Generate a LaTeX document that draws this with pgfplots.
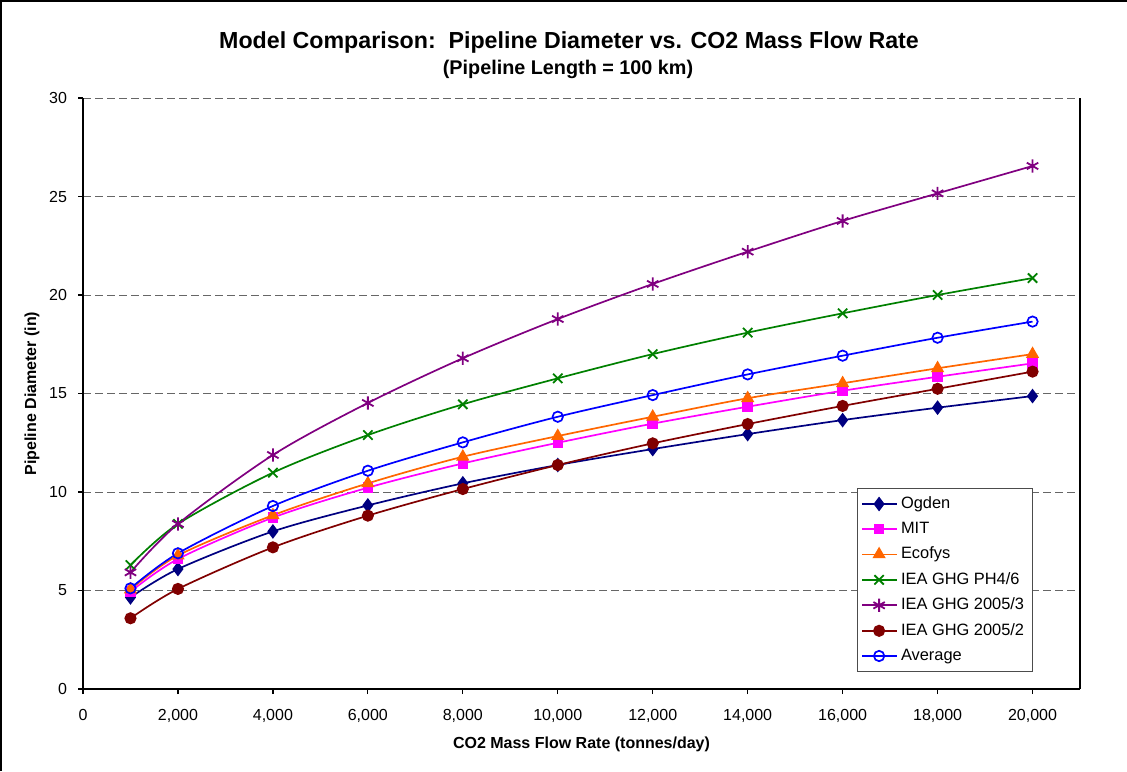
\documentclass[border=0pt]{standalone}
\usepackage{pgfplots}
\pgfplotsset{compat=1.18}
\usepackage{pgfplotstable}
\usepackage{fontspec}
\setmainfont{Liberation Sans}
\definecolor{cOgden}{RGB}{0,0,128}
\definecolor{cMIT}{RGB}{255,0,255}
\definecolor{cEco}{RGB}{255,102,0}
\definecolor{cPH}{RGB}{0,128,0}
\definecolor{cG3}{RGB}{128,0,128}
\definecolor{cG2}{RGB}{128,0,0}
\definecolor{cAvg}{RGB}{0,0,255}
\pgfplotstableread{
x ogden mit ecofys ph46 g3 g2 avg
1000 4.65 4.94 5.05 6.29 5.92 3.59 5.11
2000 6.09 6.60 6.78 8.38 8.38 5.08 6.89
4000 8.00 8.70 8.82 10.98 11.88 7.19 9.29
6000 9.32 10.22 10.44 12.89 14.52 8.80 11.08
8000 10.44 11.45 11.79 14.45 16.79 10.15 12.52
10000 11.37 12.50 12.84 15.77 18.78 11.37 13.82
12000 12.18 13.47 13.82 17.00 20.56 12.47 14.92
14000 12.94 14.33 14.76 18.09 22.20 13.45 15.97
16000 13.65 15.14 15.52 19.07 23.76 14.37 16.92
18000 14.28 15.85 16.28 20.00 25.16 15.24 17.83
20000 14.87 16.53 17.00 20.86 26.55 16.11 18.65
}\data
\begin{document}
\begin{tikzpicture}
\useasboundingbox (-41.5pt,-41pt) rectangle (522pt,344.5pt);
\draw[black,line width=0.75pt] (-40.9pt,-41pt) -- (-40.9pt,344.1pt) -- (522pt,344.1pt);
\begin{axis}[
  scale only axis, width=498.5pt, height=295.5pt,
  xmin=0, xmax=21000, ymin=0, ymax=30,
  xtick={0,2000,...,20000}, ytick={0,5,...,30},
  axis x line*=bottom, axis y line*=left,
  axis line style={black, line width=0.6pt, -},
  tick align=outside, major tick length=2.5pt,
  tick style={black, line width=0.6pt},
  ymajorgrids, grid style={dashed, dash pattern=on 4pt off 2pt, gray!80!black, line width=0.5pt},
  /pgf/number format/assume math mode=true,
  /pgf/number format/1000 sep={,},
  scaled x ticks=false,
  ticklabel style={font=\fontsize{8}{9.6}\selectfont},
  xticklabel style={yshift=-4pt},
  yticklabel style={xshift=-2pt},
  xlabel={\textbf{CO2 Mass Flow Rate (tonnes/day)}},
  ylabel={\textbf{Pipeline Diameter (in)}},
  label style={font=\fontsize{8}{9.6}\selectfont},
  xlabel style={at={(axis description cs:0.5,-0.0931)}, anchor=center},
  ylabel style={at={(axis description cs:-0.0512,0.5)}, anchor=center},
  legend style={at={(0.776,0.340)}, anchor=north west, draw=black!70, line width=0.5pt,
    font=\fontsize{8.2}{9.8}\selectfont, row sep=1.3pt, inner sep=2pt,
    /tikz/every even column/.append style={column sep=1pt}},
  legend cell align=left,
  every axis plot/.append style={line width=0.85pt, smooth},
  clip=false,
]
\addplot[color=cOgden, mark=diamond*, mark size=3pt, mark options={fill=cOgden}] table[x=x,y=ogden]{\data};
\addlegendentry{Ogden}
\addplot[color=cMIT, mark=square*, mark size=2.2pt, mark options={fill=cMIT}] table[x=x,y=mit]{\data};
\addlegendentry{MIT}
\addplot[color=cEco, mark=triangle*, mark size=3pt, mark options={fill=cEco}] table[x=x,y=ecofys]{\data};
\addlegendentry{Ecofys}
\addplot[color=cPH, mark=x, mark size=3.3pt, mark options={line width=0.9pt}] table[x=x,y=ph46]{\data};
\addlegendentry{IEA GHG PH4/6}
\addplot[color=cG3, mark=asterisk, mark size=3.3pt, mark options={line width=0.9pt}] table[x=x,y=g3]{\data};
\addlegendentry{IEA GHG 2005/3}
\addplot[color=cG2, mark=*, mark size=2.6pt, mark options={fill=cG2}] table[x=x,y=g2]{\data};
\addlegendentry{IEA GHG 2005/2}
\addplot[color=cAvg, mark=o, mark size=2.6pt, mark options={fill=none}] table[x=x,y=avg]{\data};
\addlegendentry{Average}
\draw[black, line width=0.6pt] (rel axis cs:1,0) -- (rel axis cs:1,1);
\end{axis}
\node[font=\bfseries\fontsize{11.6}{14}\selectfont] at (243pt,323pt) {Model Comparison:\ \ Pipeline Diameter vs. CO2 Mass Flow Rate};
\node[font=\bfseries\fontsize{9.9}{12}\selectfont] at (242.5pt,310pt) {(Pipeline Length = 100 km)};
\end{tikzpicture}
\end{document}
